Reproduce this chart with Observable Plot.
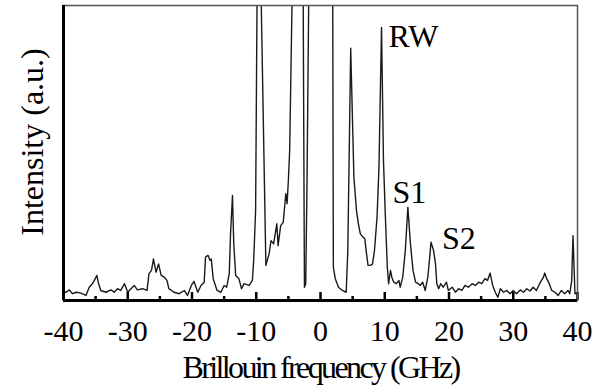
<!DOCTYPE html>
<html><head><meta charset="utf-8">
<script src="https://cdn.jsdelivr.net/npm/d3@7"></script>
<script src="https://cdn.jsdelivr.net/npm/@observablehq/plot@0.6"></script>
<style>
html,body{margin:0;padding:0;background:#fff;}
#chart svg{display:block;}
#chart svg text{font-family:"Liberation Serif","Times New Roman",serif;}
#chart g[aria-label="x-axis label"] text{letter-spacing:-2.6px;font-size:32px;}
</style></head><body><div id="chart"></div>
<script>
// Brillouin frequency (GHz)
const freq = [
  -39.9, -39.6, -39.1, -38.6, -38.0, -37.3, -36.5, -36.0, -35.5, -35.2,
  -34.8, -34.6, -34.2, -33.4, -32.6, -32.1, -31.6, -31.1, -30.5, -30.0,
  -29.5, -29.0, -28.5, -27.7, -27.0, -26.7, -26.3, -26.0, -25.6, -25.2,
  -24.8, -24.3, -23.9, -23.6, -22.8, -22.0, -21.2, -20.7, -20.1, -19.7,
  -19.1, -18.6, -18.1, -17.9, -17.5, -17.2, -17.0, -16.7, -16.1, -15.5,
  -15.0, -14.6, -14.2, -14.0, -13.7, -13.5, -13.2, -12.7, -12.3, -11.9,
  -11.1, -10.6, -10.4, -10.1, -9.85, -9.6, -9.3, -8.5, -8.0, -7.7,
  -7.3, -6.8, -6.6, -6.2, -5.8, -5.4, -5.2, -5.0, -4.8, -4.4,
  -3.5, -2.7, -2.5, -2.3, -2.1, -1.8, -1.0, 0.0, 1.0, 1.9,
  2.0, 2.3, 2.8, 3.4, 4.0, 4.25, 4.7, 5.2, 5.6, 5.9,
  6.2, 6.6, 6.9, 7.1, 7.4, 7.8, 8.1, 8.4, 8.8, 9.1,
  9.5, 9.8, 10.1, 10.4, 10.6, 10.9, 11.1, 11.4, 11.8, 12.2,
  12.4, 12.8, 13.2, 13.6, 14.0, 14.4, 14.8, 15.2, 15.5, 15.9,
  16.3, 16.7, 17.0, 17.2, 17.6, 17.9, 18.1, 18.4, 18.7, 19.1,
  19.6, 19.9, 20.5, 21.0, 21.5, 22.0, 22.5, 23.0, 23.6, 24.1,
  24.6, 25.1, 25.6, 26.0, 26.4, 26.8, 27.2, 27.6, 28.0, 28.5,
  29.0, 29.5, 30.0, 30.5, 31.1, 31.6, 32.1, 32.6, 33.1, 33.6,
  34.1, 34.4, 34.7, 34.9, 35.2, 35.6, 36.0, 36.5, 37.0, 37.5,
  38.0, 38.5, 38.8, 39.1, 39.3, 39.6, 39.9
];
// Intensity (a.u.), 100 = top of the frame (larger values are clipped)
const intensity = [
  3.0, 2.8, 3.6, 2.3, 2.8, 2.5, 1.7, 4.5, 5.7, 6.8,
  8.5, 6.2, 3.4, 2.8, 3.6, 2.8, 4.0, 3.4, 5.7, 2.8,
  4.0, 5.1, 3.6, 4.0, 3.4, 9.1, 10.2, 14.1, 9.6, 12.4,
  8.5, 7.9, 6.8, 4.0, 2.8, 2.3, 3.4, 1.7, 5.1, 6.5,
  2.8, 5.1, 6.2, 14.7, 15.3, 13.6, 14.1, 7.4, 3.4, 2.8,
  5.1, 4.5, 9.1, 22.6, 35.6, 19.2, 8.5, 7.4, 4.0, 5.7,
  5.1, 6.8, 13.6, 30.5, 110, 160, 110, 11.9, 15.8, 20.3,
  19.2, 26.0, 18.6, 25.4, 26.5, 36.2, 32.8, 40.7, 50.8, 105,
  180, 105, 4.5, 5.7, 40, 110, 250, 400, 250, 105,
  11.3, 7.4, 4.5, 3.4, 2.8, 16.9, 85.5, 41.8, 30.5, 26.0,
  22.6, 21.5, 20.9, 16.9, 11.9, 11.9, 12.4, 16.9, 28.2, 45.2,
  92.6, 47.5, 28.2, 11.3, 5.7, 10.2, 7.9, 6.2, 5.7, 6.8,
  4.5, 7.9, 16.9, 31.6, 19.2, 10.2, 6.2, 5.7, 5.1, 6.2,
  3.4, 7.9, 14.7, 19.8, 16.9, 12.4, 5.7, 4.0, 5.7, 4.5,
  6.2, 3.4, 4.5, 2.8, 4.0, 3.4, 5.1, 4.5, 5.7, 5.1,
  6.2, 5.7, 7.4, 6.8, 9.3, 5.1, 2.8, 1.1, 4.0, 2.8,
  3.4, 2.3, 3.4, 2.3, 3.6, 2.8, 4.0, 3.2, 4.5, 3.4,
  5.7, 6.8, 7.9, 9.3, 7.4, 5.7, 3.4, 2.8, 1.7, 3.4,
  2.3, 3.4, 2.3, 6.8, 22.0, 2.3, 2.5
];
const xDomain = [-40, 40];
const yDomain = [0, 100];
const majorTicks = [-40, -30, -20, -10, 0, 10, 20, 30, 40];
const minorTicks = [-35, -25, -15, -5, 5, 15, 25, 35];
const tickLabels = ["-40", "-30", "-20", "-10", "0", "10", "20", "30", "40"];
const xLabel = "Brillouin frequency (GHz)";
const yLabel = "Intensity (a.u.)";
const peakNames = ["RW", "S1", "S2"];
const peakLabelFreq = [10.6, 11.2, 18.9];
const peakLabelInt = [85.8, 32.9, 17.6];

const serif = '"Liberation Serif", "Times New Roman", serif';
const data = freq.map((f, i) => ({f, v: intensity[i]}));

const plot = Plot.plot({
  width: 595,
  height: 386,
  marginLeft: 63,
  marginRight: 18,
  marginTop: 5,
  marginBottom: 86,
  style: {fontFamily: serif, background: "#fff", color: "#000"},
  x: {domain: xDomain},
  y: {domain: yDomain, axis: null},
  marks: [
    Plot.line(data, {x: "f", y: "v", stroke: "#1a1a1a", strokeWidth: 1.4, clip: true}),
    Plot.tickX(majorTicks, {x: d => d, insetTop: 287, stroke: "#000", strokeWidth: 2.5}),
    Plot.tickX(minorTicks, {x: d => d, insetTop: 291, stroke: "#000", strokeWidth: 2.5}),
    Plot.frame({stroke: "#555", strokeWidth: 1.5}),
    Plot.ruleX([xDomain[0]], {stroke: "#000", strokeWidth: 3}),
    Plot.ruleY([yDomain[0]], {stroke: "#000", strokeWidth: 3}),
    Plot.axisX(majorTicks, {
      tickSize: 0, tickPadding: 19, fontSize: 30, fontFamily: serif,
      tickFormat: d => tickLabels[majorTicks.indexOf(d)],
      label: xLabel, labelAnchor: "center", labelOffset: 77, labelArrow: "none"
    }),
    Plot.text([yLabel], {frameAnchor: "left", textAnchor: "middle", rotate: -90, dx: -31, dy: -11, fontSize: 32, fontFamily: serif, fill: "#000"}),
    Plot.text(peakNames, {
      x: (d, i) => peakLabelFreq[i], y: (d, i) => peakLabelInt[i], text: d => d,
      textAnchor: "start", lineAnchor: "bottom", fontSize: 32, fontFamily: serif, fill: "#000"
    })
  ]
});
document.getElementById("chart").appendChild(plot);
</script>
</body></html>
